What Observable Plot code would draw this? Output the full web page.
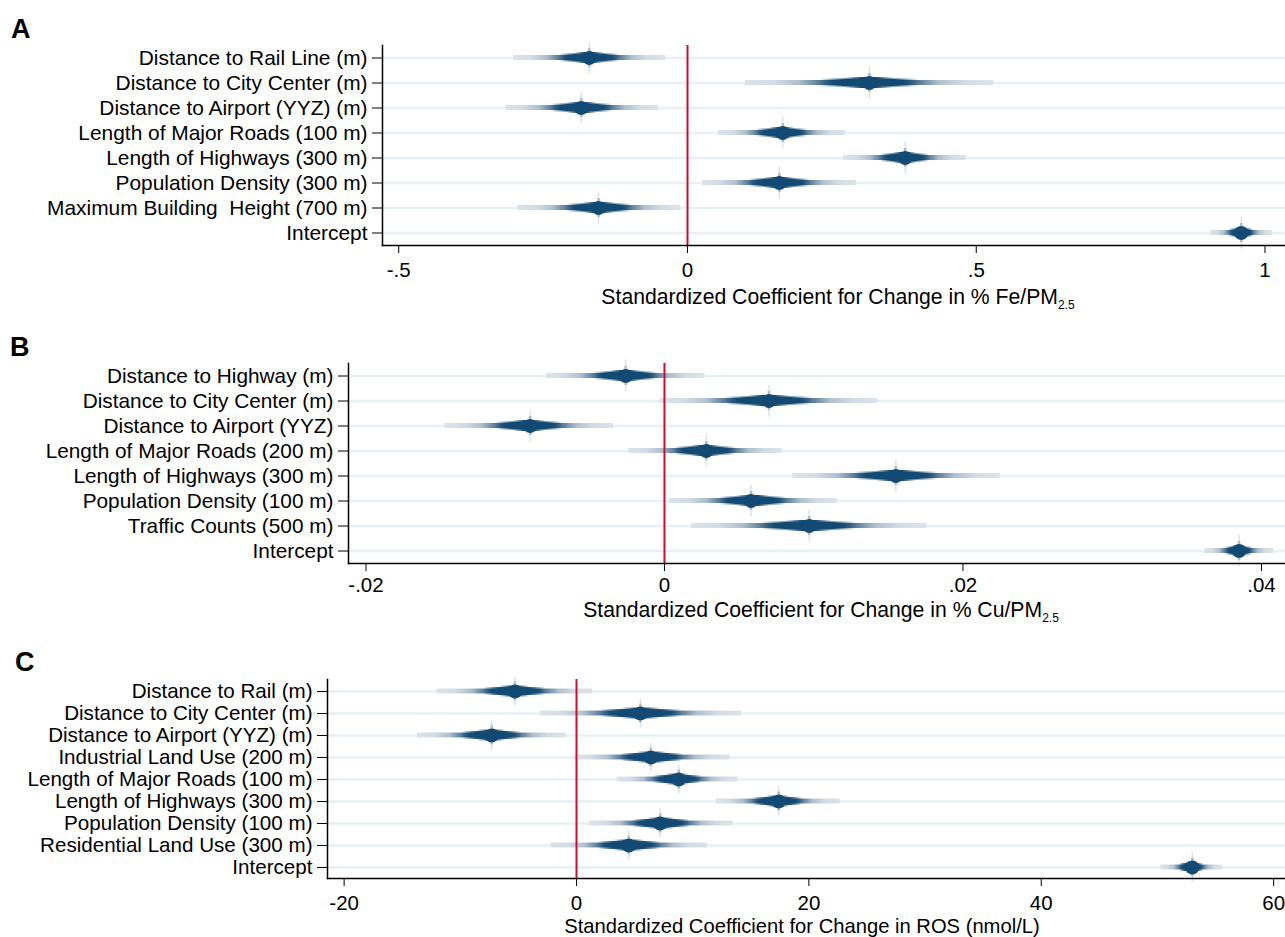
<!DOCTYPE html>
<html><head><meta charset="utf-8">
<script src="https://cdn.jsdelivr.net/npm/d3@7"></script>
<script src="https://cdn.jsdelivr.net/npm/@observablehq/plot@0.6"></script>
<style>
body{margin:0;background:#fff;font-family:"Liberation Sans",Arial,Helvetica,sans-serif;color:#000;}
#wrap{position:relative;width:1285px;height:937px;overflow:hidden;}
.panel{position:absolute;left:0;}
.tag{position:absolute;font-weight:bold;font-size:27px;line-height:27px;}
.xtitle{position:absolute;font-size:21.2px;line-height:20px;transform:translateX(-50%);white-space:nowrap;}
.xtitle sub{font-size:12px;vertical-align:-5px;line-height:0;}
</style></head>
<body>
<svg width="0" height="0" style="position:absolute">
<defs>
<linearGradient id="g1" x1="0" x2="1" y1="0" y2="0">
<stop offset="0" stop-color="#dce3ea"/>
<stop offset="0.12" stop-color="#d3dbe4"/>
<stop offset="0.22" stop-color="#aebfce"/>
<stop offset="0.30" stop-color="#5a7c99"/>
<stop offset="0.36" stop-color="#134a73"/>
<stop offset="0.64" stop-color="#134a73"/>
<stop offset="0.70" stop-color="#5a7c99"/>
<stop offset="0.78" stop-color="#aebfce"/>
<stop offset="0.88" stop-color="#d3dbe4"/>
<stop offset="1" stop-color="#dce3ea"/>
</linearGradient>
<linearGradient id="g2" x1="0" x2="1" y1="0" y2="0">
<stop offset="0" stop-color="#134a73" stop-opacity="0"/>
<stop offset="0.30" stop-color="#134a73" stop-opacity="0"/>
<stop offset="0.40" stop-color="#134a73" stop-opacity="1"/>
<stop offset="0.60" stop-color="#134a73" stop-opacity="1"/>
<stop offset="0.70" stop-color="#134a73" stop-opacity="0"/>
<stop offset="1" stop-color="#134a73" stop-opacity="0"/>
</linearGradient>
<linearGradient id="g3" x1="0" x2="1" y1="0" y2="0">
<stop offset="0" stop-color="#134a73" stop-opacity="0"/>
<stop offset="0.40" stop-color="#134a73" stop-opacity="0"/>
<stop offset="0.47" stop-color="#134a73" stop-opacity="1"/>
<stop offset="0.53" stop-color="#134a73" stop-opacity="1"/>
<stop offset="0.60" stop-color="#134a73" stop-opacity="0"/>
<stop offset="1" stop-color="#134a73" stop-opacity="0"/>
</linearGradient>
</defs>
</svg>
<div id="wrap"></div>
<script>
// ---------- Panel A: % Fe/PM2.5 ----------
const termsA = ["Distance to Rail Line (m)","Distance to City Center (m)","Distance to Airport (YYZ) (m)","Length of Major Roads (100 m)","Length of Highways (300 m)","Population Density (300 m)","Maximum Building\u00a0 Height (700 m)","Intercept"];
const estA = [-0.170, 0.315, -0.184, 0.165, 0.377, 0.159, -0.154, 0.959];
const loA  = [-0.301, 0.100, -0.315, 0.054, 0.270, 0.026, -0.294, 0.906];
const hiA  = [-0.038, 0.530, -0.050, 0.274, 0.483, 0.293, -0.012, 1.013];
const ticksA = [-0.5, 0, 0.5, 1];

// ---------- Panel B: % Cu/PM2.5 ----------
const termsB = ["Distance to Highway (m)","Distance to City Center (m)","Distance to Airport (YYZ)","Length of Major Roads (200 m)","Length of Highways (300 m)","Population Density (100 m)","Traffic Counts (500 m)","Intercept"];
const estB = [-0.0026, 0.0070, -0.0090, 0.0028, 0.0155, 0.0058, 0.0097, 0.0385];
const loB  = [-0.0079, -0.0003, -0.0147, -0.0024, 0.0086, 0.0003, 0.0018, 0.0362];
const hiB  = [0.0027, 0.0143, -0.0034, 0.0079, 0.0225, 0.0116, 0.0176, 0.0408];
const ticksB = [-0.02, 0, 0.02, 0.04];

// ---------- Panel C: ROS (nmol/L) ----------
const termsC = ["Distance to Rail (m)","Distance to City Center (m)","Distance to Airport (YYZ) (m)","Industrial Land Use (200 m)","Length of Major Roads (100 m)","Length of Highways (300 m)","Population Density (100 m)","Residential Land Use (300 m)","Intercept"];
const estC = [-5.3, 5.5, -7.3, 6.4, 8.8, 17.4, 7.2, 4.5, 53.0];
const loC  = [-12.0, -3.1, -13.7, -0.2, 3.5, 12.0, 1.1, -2.2, 50.3];
const hiC  = [1.4, 14.2, -0.9, 13.2, 13.9, 22.7, 13.5, 11.3, 55.6];
const ticksC = [-20, 0, 20, 40, 60];

const fmtDot = d => d === 0 ? "0" : String(d).replace(/^(-?)0\./, "$1.");
const font = '"Liberation Sans", Arial, Helvetica, sans-serif';

function panel({terms, est, lo, hi, ticks, fmt, xDomain, marginLeft, plotH, top, labelSize, tickPad}) {
  const rows = terms.map((t, i) => ({term: t, est: est[i], lo: lo[i], hi: hi[i]}));
  const bw = plotH / terms.length;
  const mt = 5, mb = 42;
  const inset = h => (bw - h) / 2;
  const p = Plot.plot({
    width: 1285, height: mt + plotH + mb,
    marginLeft, marginRight: 0, marginTop: mt, marginBottom: mb,
    style: {fontFamily: font, fontSize: "20px", color: "#000", background: "transparent", overflow: "visible"},
    x: {domain: xDomain},
    y: {domain: terms, type: "band", padding: 0},
    marks: [
      Plot.gridY({stroke: "#e7f0f4", strokeOpacity: 1, strokeWidth: 2.5}),
      Plot.barX(rows, {x1: "lo", x2: "hi", y: "term", fill: "url(#g1)", insetTop: inset(5), insetBottom: inset(5)}),
      Plot.barX(rows, {x1: "lo", x2: "hi", y: "term", fill: "url(#g2)", insetTop: inset(8), insetBottom: inset(8)}),
      Plot.barX(rows, {x1: "lo", x2: "hi", y: "term", fill: "url(#g3)", insetTop: inset(11), insetBottom: inset(11)}),
      Plot.ruleX([0], {stroke: "#c8102e", strokeWidth: 2}),
      Plot.tickX(rows, {x: "est", y: "term", stroke: "#d6dfe7", strokeWidth: 1.3, insetTop: inset(bw + 7), insetBottom: inset(bw + 7)}),
      Plot.tickX(rows, {x: "est", y: "term", stroke: "#a8bccc", strokeWidth: 2.5, insetTop: inset(19), insetBottom: inset(19)}),
      Plot.dot(rows, {x: "est", y: "term", r: 7, fill: "#134a73", stroke: "none"}),
      Plot.frame({anchor: "left", stroke: "#000", strokeWidth: 1.5}),
      Plot.frame({anchor: "bottom", stroke: "#000", strokeWidth: 1.5}),
      Plot.axisY({tickSize: 10, tickPadding: 5, label: null, fontSize: labelSize}),
      Plot.axisX({ticks, tickFormat: fmt, tickSize: 8, tickPadding: tickPad, label: null, fontSize: 20.5})
    ]
  });
  p.classList.add("panel");
  p.style.top = (top - mt) + "px";
  return p;
}

const wrap = document.getElementById("wrap");
wrap.appendChild(panel({terms: termsA, est: estA, lo: loA, hi: hiA, ticks: ticksA, fmt: fmtDot, xDomain: [-0.5281, 1.0355], marginLeft: 382, plotH: 200, top: 45, labelSize: 20.9, tickPad: 9}));
wrap.appendChild(panel({terms: termsB, est: estB, lo: loB, hi: hiB, ticks: ticksB, fmt: fmtDot, xDomain: [-0.02117, 0.04161], marginLeft: 348, plotH: 200, top: 362.5, labelSize: 20.8, tickPad: 6}));
wrap.appendChild(panel({terms: termsC, est: estC, lo: loC, hi: hiC, ticks: ticksC, fmt: d => String(d), xDomain: [-21.43, 61.02], marginLeft: 327, plotH: 199, top: 679, labelSize: 20.6, tickPad: 9}));

function addHTML(html, cls, left, top, size) {
  const d = document.createElement("div");
  d.className = cls; d.innerHTML = html;
  d.style.left = left + "px"; d.style.top = top + "px";
  if (size) d.style.fontSize = size + "px";
  wrap.appendChild(d);
}
addHTML("A", "tag", 11, 16);
addHTML("B", "tag", 10, 334);
addHTML("C", "tag", 15, 649);
addHTML("Standardized Coefficient for Change in % Fe/PM<sub>2.5</sub>", "xtitle", 838, 287);
addHTML("Standardized Coefficient for Change in % Cu/PM<sub>2.5</sub>", "xtitle", 821, 600);
addHTML("Standardized Coefficient for Change in ROS (nmol/L)", "xtitle", 802, 916, 20.2);
</script>
</body></html>
